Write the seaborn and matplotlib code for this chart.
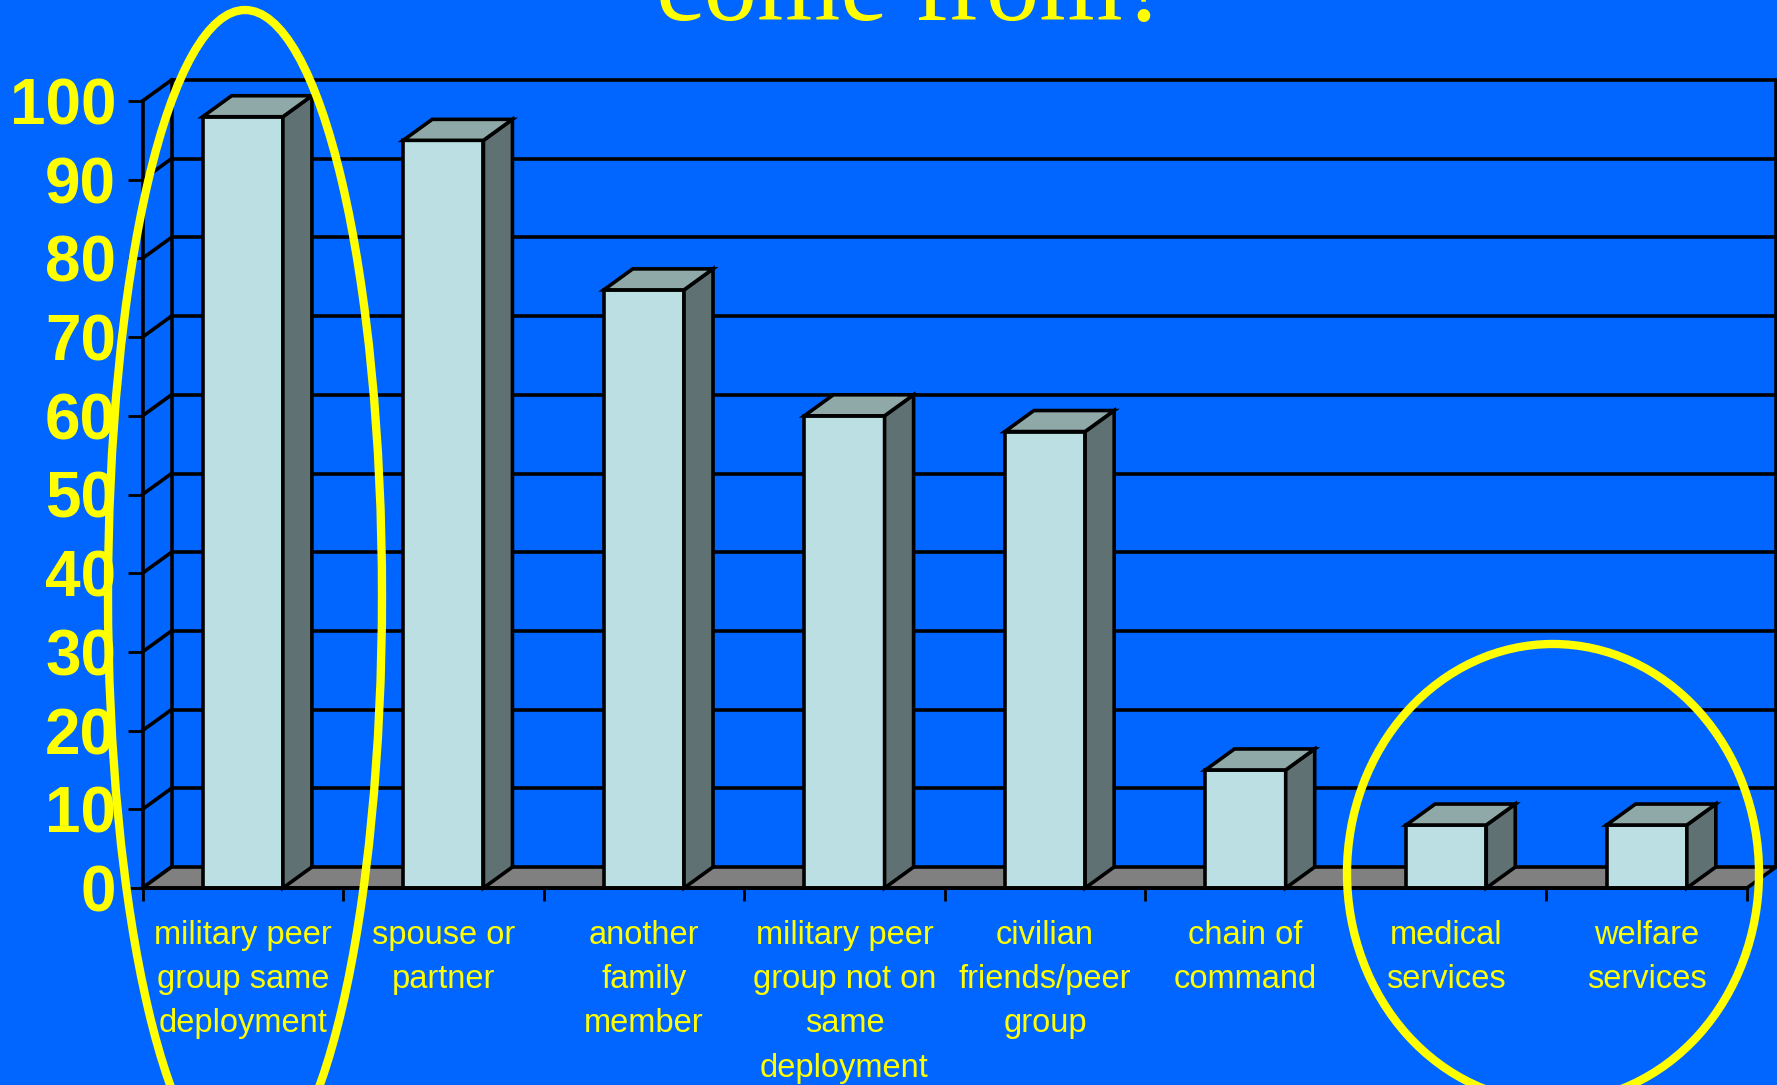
import matplotlib
matplotlib.use("Agg")
import matplotlib.pyplot as plt
from matplotlib.patches import Polygon, Ellipse
import seaborn as sns
import pandas as pd

# Sources of support, percentage of respondents
categories = [
    "military peer\ngroup same\ndeployment",
    "spouse or\npartner",
    "another\nfamily\nmember",
    "military peer\ngroup not on\nsame\ndeployment",
    "civilian\nfriends/peer\ngroup",
    "chain of\ncommand",
    "medical\nservices",
    "welfare\nservices",
]
values = [98, 95, 76, 60, 58, 15, 8, 8]
y_ticks = list(range(0, 101, 10))
title_text = "come from?"

BG = "#0066FF"
YELLOW = "#FFFF00"
FRONT = "#BBDFE2"
SIDE = "#5F7172"
TOP = "#8FA9A9"
FLOOR = "#808080"
EDGE_LW = 2.6

plt.rcParams["font.family"] = ["Liberation Sans", "DejaVu Sans"]

W, H = 1777, 1085
fig = plt.figure(figsize=(W / 100, H / 100), dpi=100, facecolor=BG)

# front plane of the 3-D box, in pixels
x_left, x_right = 142.5, 1747.0
y_zero, y_hundred = 888.0, 101.0
ax = fig.add_axes([x_left / W, (H - y_zero) / H,
                   (x_right - x_left) / W, (y_zero - y_hundred) / H])
ax.set_facecolor(BG)

n = len(categories)
ax.set_xlim(-0.5, n - 0.5)
ax.set_ylim(0, 100)

# depth of the box in data units (about 29 px right, 21 px up)
dx = 29.0 / ((x_right - x_left) / n)
dy = 21.0 / ((y_zero - y_hundred) / 100.0)

df = pd.DataFrame({"source": categories, "pct": values})
sns.barplot(data=df, x="source", y="pct", order=categories, color=FRONT,
            saturation=1, width=0.4, edgecolor="black", linewidth=EDGE_LW,
            ax=ax)
bars = list(ax.patches)

x0w, x1w = -0.5 + dx, n - 0.5 + dx
# back wall grid lines and edges
for yv in y_ticks[1:]:
    ax.plot([x0w, x1w], [yv + dy, yv + dy], color="black", lw=EDGE_LW,
            clip_on=False, zorder=1, solid_capstyle="butt")
for xv in (x0w, x1w):
    ax.plot([xv, xv], [dy, 100 + dy], color="black", lw=EDGE_LW,
            clip_on=False, zorder=1)
# left wall diagonals
for yv in y_ticks:
    ax.plot([-0.5, x0w], [yv, yv + dy], color="black", lw=EDGE_LW,
            clip_on=False, zorder=1)

# floor
floor = Polygon([(-0.5, 0), (n - 0.5, 0), (x1w, dy), (x0w, dy)],
                closed=True, facecolor=FLOOR, edgecolor="black",
                lw=EDGE_LW, clip_on=False, zorder=2)
ax.add_patch(floor)

# extrude each bar
for p in bars:
    bx, bw, bh = p.get_x(), p.get_width(), p.get_height()
    p.set_zorder(4)
    top = Polygon([(bx, bh), (bx + bw, bh), (bx + bw + dx, bh + dy),
                   (bx + dx, bh + dy)], closed=True, facecolor=TOP,
                  edgecolor="black", lw=EDGE_LW, clip_on=False, zorder=4,
                  joinstyle="miter")
    side = Polygon([(bx + bw, 0), (bx + bw + dx, dy), (bx + bw + dx, bh + dy),
                    (bx + bw, bh)], closed=True, facecolor=SIDE,
                   edgecolor="black", lw=EDGE_LW, clip_on=False, zorder=4,
                   joinstyle="miter")
    ax.add_patch(side)
    ax.add_patch(top)
    p.set_clip_on(False)

# axes lines and ticks
for s in ("top", "right"):
    ax.spines[s].set_visible(False)
for s in ("left", "bottom"):
    ax.spines[s].set_color("black")
    ax.spines[s].set_linewidth(EDGE_LW)
    ax.spines[s].set_zorder(5)

ax.set_yticks(y_ticks)
ax.set_yticklabels([str(v) for v in y_ticks])
ax.tick_params(axis="y", which="major", direction="out", length=11,
               width=2.0, color="black", pad=8, labelsize=46,
               labelcolor=YELLOW)
for lab in ax.get_yticklabels():
    lab.set_fontweight("bold")

ax.set_xticks([i - 0.5 for i in range(n + 1)], minor=True)
ax.tick_params(axis="x", which="minor", direction="out", length=9.5,
               width=2.0, color="black")
ax.tick_params(axis="x", which="major", length=0, pad=23, labelsize=23.5,
               labelcolor=YELLOW)
for lab in ax.get_xticklabels():
    lab.set_linespacing(1.55)
ax.set_xlabel("")
ax.set_ylabel("")
ax.grid(False)

# title, partly above the top edge
fig.text(913 / W, 1 - 20 / H, title_text, ha="center", va="baseline",
         fontsize=77, family=["Liberation Serif", "DejaVu Serif"],
         color=YELLOW)

# highlight rings drawn in pixel space
ov = fig.add_axes([0, 0, 1, 1])
ov.set_xlim(0, W)
ov.set_ylim(H, 0)
ov.axis("off")
ov.patch.set_alpha(0)
ov.add_patch(Ellipse((245, 595), 2 * 137, 2 * 585, fill=False,
                     edgecolor=YELLOW, lw=6))
ov.add_patch(Ellipse((1553, 873), 2 * 206, 2 * 229, fill=False,
                     edgecolor=YELLOW, lw=6))

fig.savefig("out.png", dpi=100, facecolor=BG)
